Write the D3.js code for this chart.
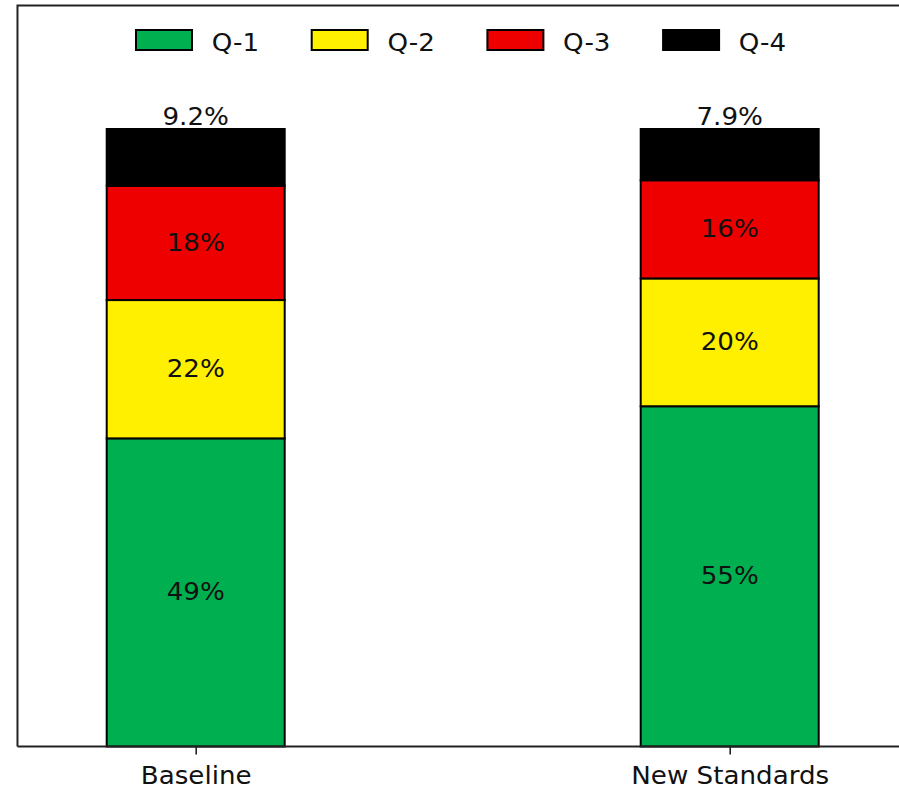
<!DOCTYPE html>
<html>
<head>
<meta charset="utf-8">
<script src="https://cdn.jsdelivr.net/npm/d3@7/dist/d3.min.js"></script>
<style>
  html, body { margin: 0; padding: 0; background: #fff; }
  svg { display: block; }
  text { font-family: "DejaVu Sans", sans-serif; }
</style>
</head>
<body>
<svg id="chart" width="899" height="791"></svg>
<script>
// ---- data ----
const categories = ["Baseline", "New Standards"];
const seriesNames = ["Q-1", "Q-2", "Q-3", "Q-4"];
const seriesColors = ["#00b050", "#fff000", "#ee0000", "#000000"];
const q1 = [49.9, 55.1];
const q2 = [22.4, 20.7];
const q3 = [18.5, 15.9];
const q4 = [9.2, 8.3];
const labelsQ1 = ["49%", "55%"];
const labelsQ2 = ["22%", "20%"];
const labelsQ3 = ["18%", "16%"];
const labelsQ4 = ["9.2%", "7.9%"];

const seriesValues = [q1, q2, q3, q4];
const seriesLabels = [labelsQ1, labelsQ2, labelsQ3, labelsQ4];

// ---- layout ----
const svg = d3.select("#chart");
const fontSize = 24, sx = 1.09;
const plotTop = 5.5, plotBottom = 746.5;
const barWidthUnits = 1 / 3;

const x = d3.scaleLinear().domain([0, categories.length - 1]).range([195.7, 729.7]);
const totals = categories.map((c, i) => d3.sum(seriesValues, s => s[i]));
const y = d3.scaleLinear().domain([0, d3.max(totals) * 1.2]).range([plotBottom, plotTop]);

const xLeft = x(-barWidthUnits - 0.0004), xRight = x(categories.length - 1 + 1 / 3 + 0.0004);
const bw = x(barWidthUnits) - x(0);

// stacked data
const stackData = categories.map((c, i) => {
  const o = { cat: c, idx: i };
  seriesNames.forEach((s, k) => o[s] = seriesValues[k][i]);
  return o;
});
const stacked = d3.stack().keys(seriesNames)(stackData);

const gBars = svg.append("g");
stacked.forEach((layer, k) => {
  gBars.selectAll(null).data(layer).enter().append("rect")
    .attr("x", d => x(d.data.idx) - bw / 2)
    .attr("width", bw)
    .attr("y", d => y(d[1]))
    .attr("height", d => y(d[0]) - y(d[1]))
    .attr("fill", seriesColors[k])
    .attr("stroke", "#000")
    .attr("stroke-width", 2);
});

// labels
function addText(g, tx, ty, str, anchor) {
  g.append("text")
    .attr("transform", `translate(${tx},${ty}) scale(${sx},1)`)
    .attr("text-anchor", anchor || "middle")
    .attr("font-size", fontSize)
    .attr("fill", "#111")
    .text(str);
}
const gLab = svg.append("g");
stacked.forEach((layer, k) => {
  layer.forEach(d => {
    const cx = x(d.data.idx);
    if (k === seriesNames.length - 1) {
      addText(gLab, cx, y(d[1]) - 4, seriesLabels[k][d.data.idx]);
    } else {
      const cy = (y(d[0]) + y(d[1])) / 2;
      addText(gLab, cx, cy + fontSize * 0.729 / 2 - 1, seriesLabels[k][d.data.idx]);
    }
  });
});

// frame (spines)
const frame = svg.append("g").attr("stroke", "#222").attr("stroke-width", 2).attr("fill", "none");
frame.append("path").attr("d", `M${xLeft},${plotBottom} L${xLeft},${plotTop} L${xRight},${plotTop}`);

// x axis
const xAxis = d3.axisBottom(x)
  .tickValues(d3.range(categories.length))
  .tickFormat(i => categories[i])
  .tickSize(8)
  .tickSizeOuter(0);
const gx = svg.append("g").attr("transform", `translate(0,${plotBottom})`).call(xAxis);
gx.select(".domain").remove();
gx.append("line").attr("x1", xLeft).attr("x2", xRight).attr("y1", 0).attr("y2", 0)
  .attr("stroke", "#222").attr("stroke-width", 2);
gx.selectAll(".tick line").attr("stroke", "#222").attr("stroke-width", 1.6);
gx.selectAll(".tick text").each(function(i) {
  const t = d3.select(this);
  t.attr("y", null).attr("dy", null)
   .attr("transform", `translate(0,37.8) scale(${sx},1)`)
   .attr("font-size", fontSize)
   .attr("font-family", "DejaVu Sans")
   .attr("fill", "#111");
});

// legend
const legX0 = 136, legStep = 175.7, patchW = 56, patchH = 20, patchY = 30, textDx = 75.7, textY = 50.5;
const gLeg = svg.append("g");
seriesNames.forEach((s, k) => {
  const lx = legX0 + k * legStep;
  gLeg.append("rect")
    .attr("x", lx).attr("y", patchY).attr("width", patchW).attr("height", patchH)
    .attr("fill", seriesColors[k]).attr("stroke", "#000").attr("stroke-width", 2);
  addText(gLeg, lx + textDx, textY, s, "start");
});
</script>
</body>
</html>
